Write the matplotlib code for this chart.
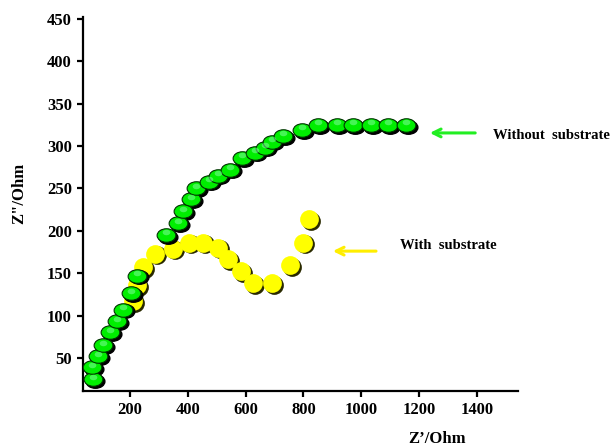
import matplotlib
matplotlib.use('Agg')
import matplotlib.pyplot as plt
from matplotlib.path import Path
from matplotlib.transforms import Affine2D, offset_copy

# Nyquist data (Z' and Z'' in Ohm)
zre_without = [72, 69, 90, 107, 131, 155, 176, 204, 225, 325, 366, 384, 411, 429,
               474, 505, 546, 588, 633, 667, 691, 730, 795, 851, 916, 972, 1034, 1093, 1155]
zim_without = [25, 39, 52, 65, 80, 93, 107, 126, 147, 195, 209, 223, 237, 250,
               258, 265, 272, 286, 292, 298, 305, 312, 319, 325, 325, 325, 325, 325, 325]

zre_with = [211, 225, 245, 287, 349, 404, 453, 505, 539, 584, 626, 691, 754, 799, 820]
zim_with = [117, 136, 157, 173, 179, 186, 186, 180, 167, 152, 138, 138, 159, 186, 214]

x_ticks = [200, 400, 600, 800, 1000, 1200, 1400]
y_ticks = [50, 100, 150, 200, 250, 300, 350, 400, 450]

plt.rcParams['font.family'] = ['Liberation Serif', 'DejaVu Serif']
plt.rcParams['font.weight'] = 'bold'

fig = plt.figure(figsize=(6.16, 4.48), dpi=100)
ax = fig.add_axes([83/616, 1-391/448, 435/616, 374/448])

# flattened ellipse marker for the green series
ell = Path.unit_circle().transformed(Affine2D().scale(1, 0.72))

shadow = offset_copy(ax.transData, fig=fig, x=1.3, y=-1.3, units='points')
hl = offset_copy(ax.transData, fig=fig, x=0, y=1.8, units='points')

# yellow series: shadow then face
ax.plot(zre_with, zim_with, ls='none', marker='o', ms=13.5, mfc='#2a2a00', mec='none',
        transform=shadow, zorder=2)
ax.plot(zre_with, zim_with, ls='none', marker='o', ms=13.5, mfc='#ffff00', mec='none',
        zorder=3)

# green series: shadow, face, highlight
ax.plot(zre_without, zim_without, ls='none', marker=ell, ms=13.5, mfc='black', mec='black',
        transform=shadow, zorder=4)
ax.plot(zre_without, zim_without, ls='none', marker=ell, ms=13.5, mfc='#00ee00', mec='#003300',
        mew=0.8, zorder=5)
ax.plot(zre_without, zim_without, ls='none', marker=ell, ms=5.5, mfc='#99ffbb', mec='none',
        alpha=0.45, transform=hl, zorder=6)

ax.set_xlim(37.7, 1542)
ax.set_ylim(11, 452)
ax.set_xticks(x_ticks)
ax.set_yticks(y_ticks)
for s in ['top', 'right']:
    ax.spines[s].set_visible(False)
for s in ['left', 'bottom']:
    ax.spines[s].set_linewidth(1.6)
ax.tick_params(axis='both', direction='out', length=4, width=1.6, labelsize=12, pad=4)
for lab in ax.get_xticklabels() + ax.get_yticklabels():
    lab.set_fontweight('bold')

fig.text(19/616, 1-193/448, 'Z"/Ohm', rotation=90, ha='center', va='center',
         fontsize=12, fontweight='bold')
fig.text(437/616, 1-439/448, 'Z\u2019/Ohm', ha='center', va='center',
         fontsize=12, fontweight='bold')

# arrows and labels
ax.annotate('', xy=(0.791, 0.690), xytext=(0.908, 0.690), xycoords='axes fraction',
            arrowprops=dict(arrowstyle='->', color='#22ee22', lw=2.2,
                            mutation_scale=14), annotation_clip=False)
ax.text(0.943, 0.682, 'Without  substrate', transform=ax.transAxes, ha='left', va='center',
        fontsize=10.5, fontweight='bold', clip_on=False)
ax.annotate('', xy=(0.568, 0.374), xytext=(0.680, 0.374), xycoords='axes fraction',
            arrowprops=dict(arrowstyle='->', color='#ffee00', lw=2.2,
                            mutation_scale=14), annotation_clip=False)
ax.text(0.729, 0.388, 'With  substrate', transform=ax.transAxes, ha='left', va='center',
        fontsize=10.5, fontweight='bold', clip_on=False)

fig.savefig('out.png', dpi=100)
